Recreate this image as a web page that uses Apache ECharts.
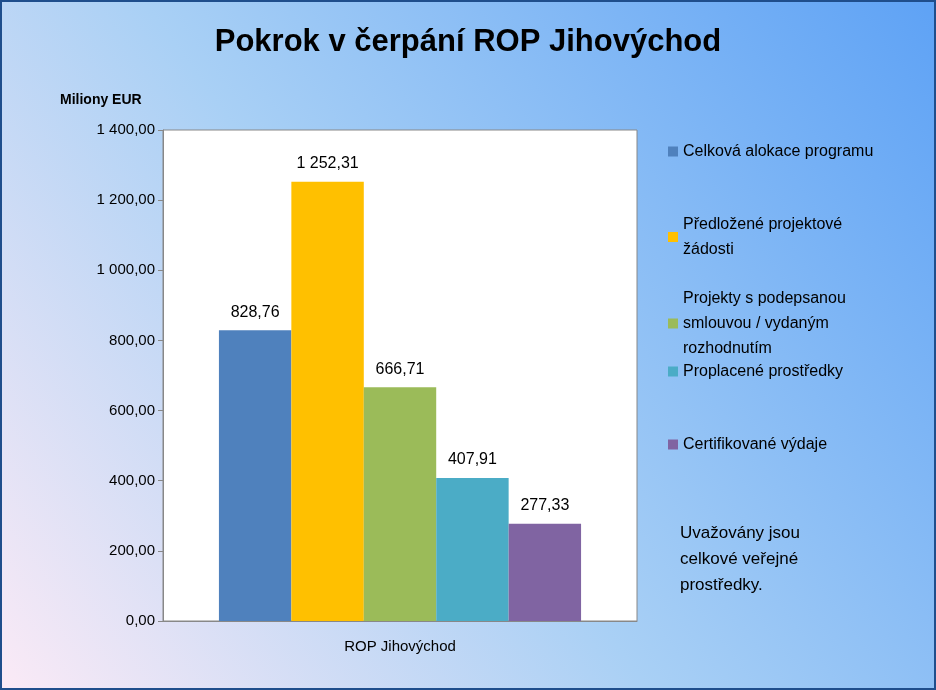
<!DOCTYPE html>
<html><head><meta charset="utf-8">
<script src="https://cdn.jsdelivr.net/npm/echarts@6/dist/echarts.min.js"></script>
<style>html,body{margin:0;padding:0}#main{width:936px;height:690px}</style>
</head><body><div id="main"></div>
<script>
var category = ['ROP Jihovýchod'];
var seriesNames = ['Celková alokace programu', 'Předložené projektové\nžádosti', 'Projekty s podepsanou\nsmlouvou / vydaným\nrozhodnutím', 'Proplacené prostředky', 'Certifikované výdaje'];
var seriesValues = [828.76, 1252.31, 666.71, 407.91, 277.33];
var colors = ['#4f81bd', '#ffc000', '#9bbb59', '#4bacc6', '#8064a2'];
var legendTops = [134, 207, 281, 354, 427];

function fmt(v) {
  var s = v.toFixed(2).split('.');
  return s[0].replace(/\B(?=(\d{3})+(?!\d))/g, ' ') + ',' + s[1];
}

var chart = echarts.init(document.getElementById('main'));
var font = 'Liberation Sans, Noto Sans, sans-serif';
chart.setOption({
  backgroundColor: {
    type: 'linear', x: 0, y: 1, x2: 1, y2: 0,
    colorStops: [{offset: 0, color: '#fbeaf6'}, {offset: 0.45, color: '#a9d0f5'}, {offset: 1, color: '#5ea2f5'}]
  },
  textStyle: {fontFamily: font},
  title: {
    text: 'Pokrok v čerpání ROP Jihovýchod', left: 'center', top: 22,
    textStyle: {fontSize: 31, fontWeight: 'bold', color: '#000', fontFamily: font}
  },
  graphic: [
    {type: 'rect', shape: {x: 1, y: 1, width: 934, height: 688}, style: {fill: null, stroke: '#1f4e8c', lineWidth: 2}},
    {type: 'rect', shape: {x: 163, y: 130, width: 474, height: 491}, style: {fill: '#fff', stroke: '#888', lineWidth: 1}, z: -1},
    {type: 'text', left: 60, top: 93, style: {text: 'Miliony EUR', fontSize: 14, fontWeight: 'bold', fill: '#000', fontFamily: font}},
    {type: 'text', left: 680, top: 520, style: {text: 'Uvažovány jsou\ncelkové veřejné\nprostředky.', fontSize: 17, lineHeight: 26, fill: '#000', fontFamily: font}}
  ],
  legend: seriesNames.map(function (n, i) {
    return {data: [n], left: 663, top: legendTops[i], itemWidth: 10, itemHeight: 10, icon: 'rect',
      textStyle: {fontSize: 16, lineHeight: 25, color: '#000', fontFamily: font}};
  }),
  grid: {left: 163, top: 130, width: 474, height: 491},
  xAxis: {
    type: 'category', data: category,
    axisLine: {lineStyle: {color: '#888'}}, axisTick: {show: false},
    axisLabel: {fontSize: 15, color: '#000', margin: 18}
  },
  yAxis: {
    type: 'value', min: 0, max: 1400, interval: 200,
    axisLine: {show: true, lineStyle: {color: '#888'}},
    axisTick: {show: true, length: 5, inside: false, lineStyle: {color: '#888'}},
    splitLine: {show: false},
    axisLabel: {fontSize: 15, color: '#000', formatter: fmt}
  },
  series: seriesNames.map(function (n, i) {
    return {
      name: n, type: 'bar', data: [seriesValues[i]], barGap: '0%', barCategoryGap: '23.6%',
      itemStyle: {color: colors[i]},
      label: {show: true, position: 'top', distance: 10, fontSize: 16, color: '#000', formatter: function (p) { return fmt(p.value); }}
    };
  })
});
</script></body></html>
